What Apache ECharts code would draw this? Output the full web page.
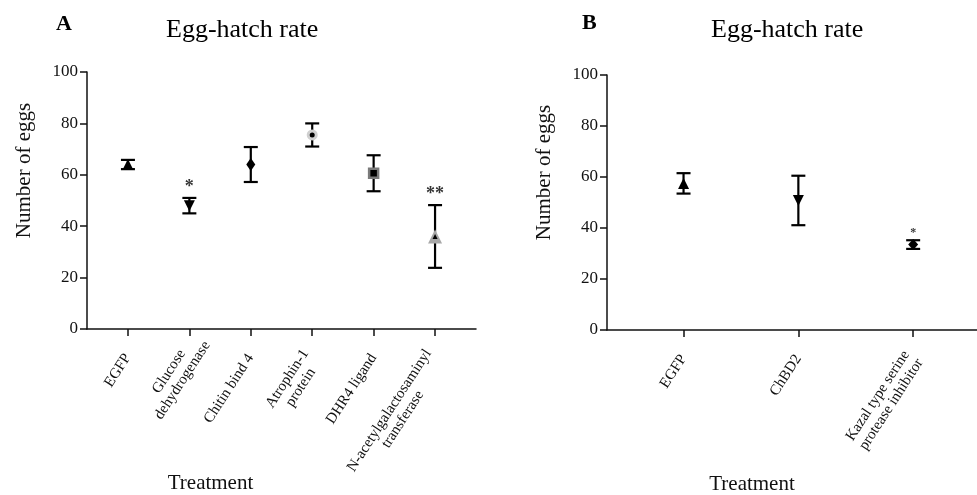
<!DOCTYPE html>
<html>
<head>
<meta charset="utf-8">
<script src="https://cdn.jsdelivr.net/npm/echarts@6/dist/echarts.min.js"></script>
<style>
  html, body { margin: 0; padding: 0; background: #fff; }
  #chart { width: 977px; height: 495px; }
</style>
</head>
<body>
<div id="chart"></div>
<script>
// Panel A
const treatmentsA = ['EGFP', 'Glucose\ndehydrogenase', 'Chitin bind 4', 'Atrophin-1\nprotein', 'DHR4 ligand', 'N-acetylgalactosaminyl\ntransferase'];
const meansA = [64, 48, 64, 75.5, 60.6, 36];
const errA = [1.8, 3, 6.8, 4.5, 7, 12.2];
const sigA = ['', '*', '', '', '', '**'];

// Panel B
const treatmentsB = ['EGFP', 'ChBD2', 'Kazal type serine\nprotease inhibitor'];
const meansB = [57.5, 50.8, 33.5];
const errB = [4, 9.7, 1.7];
const sigB = ['', '', '*'];

const yTicks = [0, 20, 40, 60, 80, 100];

const FONT = '"Liberation Serif", "Times New Roman", serif';
const INK = '#111';
const LABEL_SIZE = 15;

// marker looks, one per treatment
const markersA = [
  { symbol: 'triangle', size: 11, color: '#000' },
  { symbol: 'triangle', size: 11, color: '#000', rotate: 180 },
  { symbol: 'diamond', size: [9, 13], color: '#000' },
  { symbol: 'circle', size: 8, color: '#000', border: '#d0d0d0', bw: 3 },
  { symbol: 'rect', size: 9, color: '#000', border: '#7a7a7a', bw: 2.5 },
  { symbol: 'triangle', size: 14, color: '#a8a8a8', inner: 5 }
];
const markersB = [
  { symbol: 'triangle', size: 11, color: '#000' },
  { symbol: 'triangle', size: 11, color: '#000', rotate: 180 },
  { symbol: 'diamond', size: [10, 11], color: '#000' }
];

// every line of a label gets the width of its first line, centred,
// so the first line ends at the tick and later lines are centred on it
const ctx = document.createElement('canvas').getContext('2d');
ctx.font = LABEL_SIZE + 'px ' + FONT;
function richFor(names, tag) {
  const rich = {};
  names.forEach((n, i) => {
    const w = ctx.measureText(n.split('\n')[0]).width;
    rich[tag + i] = { width: Math.ceil(w), align: 'center', fontFamily: FONT, fontSize: LABEL_SIZE, color: INK, lineHeight: 16 };
  });
  return rich;
}
function fmtFor(names, tag) {
  return v => {
    const i = Math.round(v);
    if (!names[i]) return '';
    return names[i].split('\n').map(l => '{' + tag + i + '|' + l + '}').join('\n');
  };
}

function xAxisFor(idx, names, max, tag, namePad) {
  const ticks = names.map((_, i) => i);
  return {
    gridIndex: idx, type: 'value', min: -2 / 3, max: max,
    name: 'Treatment', nameLocation: 'middle', nameGap: 144, nameMoveOverlap: false,
    nameTextStyle: { fontFamily: FONT, fontSize: 21, color: INK, padding: [0, namePad, 0, 0] },
    splitLine: { show: false },
    axisLine: { onZero: false, lineStyle: { color: INK, width: 1.5 } },
    axisTick: { customValues: ticks, length: 7, lineStyle: { color: INK, width: 1.5 } },
    axisLabel: {
      customValues: ticks, rotate: 57, margin: 26, verticalAlign: 'middle',
      formatter: fmtFor(names, tag), rich: richFor(names, tag)
    }
  };
}
function yAxisFor(idx) {
  return {
    gridIndex: idx, type: 'value', min: 0, max: 100, interval: 20,
    name: 'Number of eggs', nameLocation: 'middle', nameGap: 52, nameMoveOverlap: false,
    nameTextStyle: { fontFamily: FONT, fontSize: 21, color: INK, padding: [0, 0, 0, 60] },
    splitLine: { show: false },
    axisLine: { show: true, onZero: false, lineStyle: { color: INK, width: 1.5 } },
    axisTick: { show: true, length: 7, lineStyle: { color: INK, width: 1.5 } },
    axisLabel: { fontFamily: FONT, fontSize: 17, color: INK, margin: 9,
      customValues: yTicks }
  };
}

function errorSeries(idx, means, errs) {
  return {
    type: 'custom', xAxisIndex: idx, yAxisIndex: idx, z: 2,
    data: means.map((m, i) => [i, m - errs[i], m + errs[i]]),
    renderItem: (params, api) => {
      const lo = api.coord([api.value(0), api.value(1)]);
      const hi = api.coord([api.value(0), api.value(2)]);
      const half = 7;
      const style = { stroke: '#000', lineWidth: 2.2 };
      return {
        type: 'group',
        children: [
          { type: 'line', shape: { x1: lo[0], y1: lo[1], x2: hi[0], y2: hi[1] }, style },
          { type: 'line', shape: { x1: hi[0] - half, y1: hi[1], x2: hi[0] + half, y2: hi[1] }, style },
          { type: 'line', shape: { x1: lo[0] - half, y1: lo[1], x2: lo[0] + half, y2: lo[1] }, style }
        ]
      };
    }
  };
}
function markerSeries(idx, means, looks) {
  const out = [{
    type: 'scatter', xAxisIndex: idx, yAxisIndex: idx, z: 3,
    data: means.map((m, i) => ({
      value: [i, m],
      symbol: looks[i].symbol,
      symbolSize: looks[i].size,
      symbolRotate: looks[i].rotate || 0,
      itemStyle: {
        color: looks[i].color, opacity: 1,
        borderColor: looks[i].border || looks[i].color,
        borderWidth: looks[i].bw || 0
      }
    }))
  }];
  const inner = [];
  means.forEach((m, i) => { if (looks[i].inner) inner.push({ value: [i, m], symbolSize: looks[i].inner }); });
  if (inner.length) {
    out.push({
      type: 'scatter', xAxisIndex: idx, yAxisIndex: idx, z: 4, symbol: 'triangle',
      itemStyle: { color: '#000', opacity: 1 }, data: inner
    });
  }
  return out;
}
function sigSeries(idx, means, errs, sig, size, dist) {
  const data = [];
  means.forEach((m, i) => { if (sig[i]) data.push({ value: [i, m + errs[i]], name: sig[i] }); });
  return {
    type: 'scatter', xAxisIndex: idx, yAxisIndex: idx, symbolSize: 0, z: 5,
    label: { show: true, position: 'top', distance: dist, formatter: p => p.name,
      fontFamily: FONT, fontSize: size, fontWeight: 'bold', color: '#000' },
    data
  };
}

const chart = echarts.init(document.getElementById('chart'), null, { renderer: 'canvas' });
chart.setOption({
  animation: false,
  backgroundColor: '#fff',
  title: [
    { text: 'A', left: 51, top: 8, textStyle: { fontFamily: FONT, fontSize: 22, fontWeight: 'bold', color: '#000' } },
    { text: 'Egg-hatch rate', left: 161, top: 12, textStyle: { fontFamily: FONT, fontSize: 26, fontWeight: 'normal', color: '#000' } },
    { text: 'B', left: 577, top: 7, textStyle: { fontFamily: FONT, fontSize: 22, fontWeight: 'bold', color: '#000' } },
    { text: 'Egg-hatch rate', left: 706, top: 12, textStyle: { fontFamily: FONT, fontSize: 26, fontWeight: 'normal', color: '#000' } }
  ],
  grid: [
    { left: 87, top: 72, width: 389, height: 257, outerBoundsMode: 'none' },
    { left: 607, top: 75, width: 370, height: 255, outerBoundsMode: 'none' }
  ],
  xAxis: [
    xAxisFor(0, treatmentsA, 17 / 3, 'a', 142),
    xAxisFor(1, treatmentsB, 2.556, 'b', 80)
  ],
  yAxis: [yAxisFor(0), yAxisFor(1)],
  series: [
    errorSeries(0, meansA, errA),
    ...markerSeries(0, meansA, markersA),
    sigSeries(0, meansA, errA, sigA, 18, 2),
    errorSeries(1, meansB, errB),
    ...markerSeries(1, meansB, markersB),
    sigSeries(1, meansB, errB, sigB, 12, 1)
  ]
});
</script>
</body>
</html>
